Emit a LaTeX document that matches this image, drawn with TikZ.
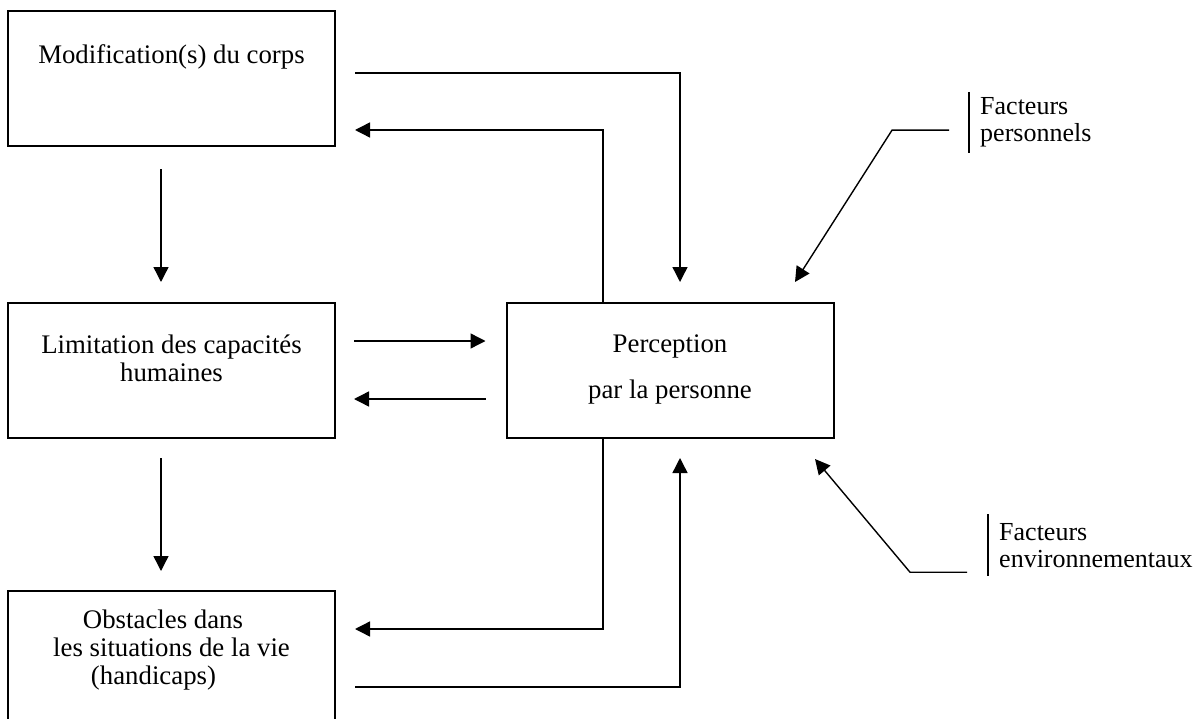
\documentclass[tikz,border=0pt]{standalone}
\usepackage{fontspec}
\setmainfont{Liberation Serif}
\usetikzlibrary{arrows.meta}
\begin{document}
\begin{tikzpicture}[x=1pt,y=-1pt,
  box/.style={draw, line width=2pt, minimum width=327pt, minimum height=135pt, inner sep=0pt},
  lbl/.style={font=\fontsize{26.8}{28}\selectfont, align=center, inner sep=0pt},
  fact/.style={font=\fontsize{26}{27}\selectfont, align=left, inner xsep=11pt, inner ysep=0pt, anchor=north west},
  arr/.style={line width=1.4pt, -{Triangle[length=15pt,width=15pt]}},
  bar/.style={line width=2pt}]
\useasboundingbox (0,0) rectangle (1201,719);
\clip (0,0) rectangle (1201,719);

% boxes
\node[box] (b1) at (171.5,79) {};
\node[box] (b2) at (171.5,370.5) {};
\node[box] (b3) at (171.5,658.5) {};
\node[box] (b4) at (670,370.5) {};

% box texts
\node[lbl, anchor=base] (t1) at ([shift={(0,53)}]b1.north) {Modification(s) du corps};
\node[lbl, anchor=north] (t2) at ([shift={(0,33)}]b2.north) {Limitation des capacités\\humaines};
\node[lbl, anchor=north] (t3) at ([shift={(0,20)}]b3.north)
  {Obstacles dans\hspace*{17pt}\\les situations de la vie\hspace*{11pt}\\(handicaps)\hspace*{36pt}};
\node[lbl, anchor=north] (t4) at ([shift={(0,33)}]b4.north) {Perception\\[18pt]par la personne};

% factors
\node[fact, minimum height=61pt] (fp) at (969,92) {Facteurs\\personnels};
\node[fact, minimum height=62pt] (fe) at (988,514) {Facteurs\\environnementaux};
\draw[bar] (fp.north west) -- (fp.south west);
\draw[bar] (fe.north west) -- (fe.south west);

% vertical chain on the left
\draw[arr] ([shift={(-10.5,22)}]b1.south) -- ([shift={(-10.5,-20)}]b2.north);
\draw[arr] ([shift={(-10.5,19)}]b2.south) -- ([shift={(-10.5,-19)}]b3.north);

% limitation <-> perception
\draw[arr] ([shift={(18,-29.5)}]b2.east) -- ([shift={(-20,-29.5)}]b4.west);
\draw[arr] ([shift={(-20,28.5)}]b4.west) -- ([shift={(18,28.5)}]b2.east);

% modification <-> perception
\draw[arr] ([shift={(19,-6)}]b1.east) -| ([shift={(10,-20)}]b4.north);
\draw[arr] ([shift={(-67,0)}]b4.north) |- ([shift={(19,51)}]b1.east);

% obstacles <-> perception
\draw[arr] ([shift={(-67,0)}]b4.south) |- ([shift={(19,-29.5)}]b3.east);
\draw[arr] ([shift={(19,28.5)}]b3.east) -| ([shift={(10,19)}]b4.south);

% factor arrows
\draw[arr] ([shift={(-20,7.5)}]fp.west) -- ++(-57,0) -- ([shift={(125,-20)}]b4.north);
\draw[arr] ([shift={(-21,27)}]fe.west) -- ++(-57,0) -- ([shift={(145,20)}]b4.south);
\end{tikzpicture}
\end{document}
